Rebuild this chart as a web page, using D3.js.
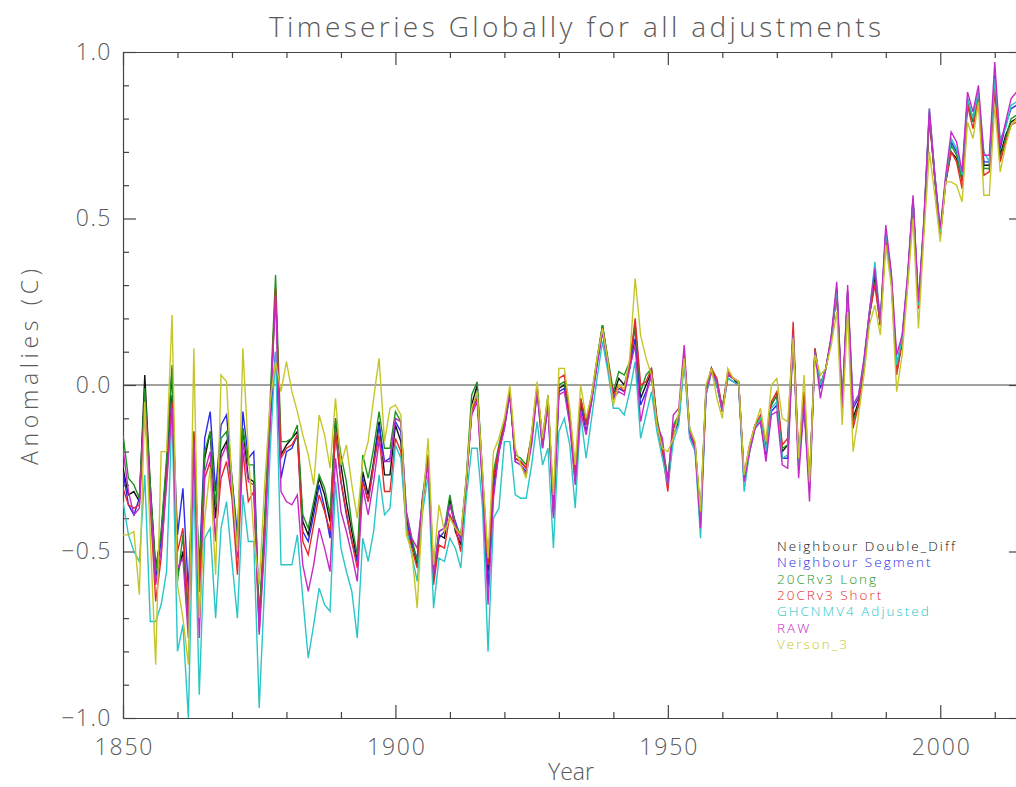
<!DOCTYPE html>
<html>
<head>
<meta charset="utf-8">
<script src="https://cdn.jsdelivr.net/npm/d3@7"></script>
<style>
  html, body { margin: 0; padding: 0; background: #fff; }
  svg { display: block; }
  text { font-family: "Open Sans", "DejaVu Sans", sans-serif; font-weight: 300; }
</style>
</head>
<body>
<svg id="chart" width="1016" height="787"></svg>
<script>
// Global annual temperature anomalies (C), 1850-2014, one array per adjustment method
const firstYear = 1850;

const doubleDiff = [
  -0.25, -0.33, -0.32, -0.35, 0.03, -0.30, -0.55, -0.45, -0.24, 0.05,
  -0.57, -0.50, -0.70, -0.15, -0.62, -0.22, -0.14, -0.40, -0.20, -0.17,
  -0.30, -0.50, -0.13, -0.28, -0.29, -0.72, -0.42, -0.08, 0.29, -0.21,
  -0.18, -0.16, -0.14, -0.41, -0.45, -0.37, -0.28, -0.33, -0.41, -0.10,
  -0.24, -0.35, -0.44, -0.53, -0.26, -0.33, -0.23, -0.11, -0.27, -0.27,
  -0.12, -0.17, -0.40, -0.47, -0.54, -0.34, -0.22, -0.57, -0.45, -0.46,
  -0.34, -0.44, -0.48, -0.29, -0.06, 0.00, -0.28, -0.56, -0.29, -0.19,
  -0.12, -0.02, -0.22, -0.23, -0.25, -0.16, -0.01, -0.17, -0.04, -0.38,
  -0.01, 0.00, -0.10, -0.28, -0.05, -0.12, -0.04, 0.07, 0.18, 0.07,
  -0.03, 0.02, 0.00, 0.06, 0.18, -0.04, 0.00, 0.04, -0.11, -0.19,
  -0.29, -0.13, -0.10, 0.09, -0.14, -0.18, -0.40, -0.02, 0.05, 0.00,
  -0.07, 0.03, 0.02, 0.00, -0.28, -0.19, -0.12, -0.10, -0.19, -0.06,
  -0.03, -0.20, -0.18, 0.15, -0.23, -0.06, -0.30, 0.10, 0.00, 0.05,
  0.14, 0.28, -0.07, 0.27, -0.10, -0.05, 0.06, 0.21, 0.32, 0.18,
  0.45, 0.32, 0.04, 0.13, 0.31, 0.55, 0.23, 0.48, 0.81, 0.62,
  0.45, 0.61, 0.70, 0.68, 0.62, 0.85, 0.79, 0.87, 0.66, 0.66,
  0.91, 0.69, 0.75, 0.79, 0.80
];

const segment = [
  -0.26, -0.36, -0.39, -0.34, -0.05, -0.32, -0.58, -0.47, -0.26, -0.03,
  -0.45, -0.31, -0.62, -0.18, -0.55, -0.16, -0.08, -0.32, -0.12, -0.09,
  -0.28, -0.45, -0.08, -0.22, -0.20, -0.70, -0.44, -0.12, 0.10, -0.28,
  -0.20, -0.19, -0.15, -0.44, -0.47, -0.39, -0.30, -0.37, -0.46, -0.14,
  -0.29, -0.39, -0.47, -0.53, -0.28, -0.35, -0.24, -0.12, -0.23, -0.22,
  -0.11, -0.14, -0.40, -0.48, -0.52, -0.34, -0.23, -0.58, -0.46, -0.44,
  -0.36, -0.41, -0.46, -0.29, -0.08, -0.02, -0.30, -0.61, -0.32, -0.20,
  -0.13, -0.03, -0.23, -0.24, -0.26, -0.17, -0.02, -0.19, -0.06, -0.39,
  -0.02, -0.01, -0.11, -0.29, -0.06, -0.14, -0.05, 0.06, 0.16, 0.06,
  -0.04, -0.01, -0.02, 0.05, 0.14, -0.06, -0.02, 0.03, -0.12, -0.20,
  -0.29, -0.15, -0.11, 0.08, -0.15, -0.19, -0.41, -0.03, 0.04, 0.00,
  -0.08, 0.02, 0.01, 0.00, -0.29, -0.20, -0.13, -0.11, -0.21, -0.08,
  -0.06, -0.22, -0.22, 0.15, -0.24, -0.06, -0.31, 0.10, -0.01, 0.05,
  0.14, 0.29, -0.06, 0.28, -0.07, -0.04, 0.07, 0.22, 0.34, 0.19,
  0.46, 0.33, 0.06, 0.14, 0.32, 0.56, 0.24, 0.49, 0.82, 0.63,
  0.46, 0.62, 0.73, 0.70, 0.63, 0.86, 0.80, 0.88, 0.67, 0.67,
  0.93, 0.71, 0.78, 0.83, 0.84
];

const crLong = [
  -0.15, -0.28, -0.30, -0.34, -0.01, -0.30, -0.56, -0.44, -0.22, 0.06,
  -0.59, -0.45, -0.72, -0.14, -0.58, -0.20, -0.14, -0.36, -0.16, -0.14,
  -0.28, -0.48, -0.13, -0.24, -0.24, -0.70, -0.40, -0.05, 0.33, -0.17,
  -0.17, -0.16, -0.12, -0.39, -0.43, -0.35, -0.27, -0.31, -0.39, -0.10,
  -0.21, -0.29, -0.42, -0.51, -0.21, -0.28, -0.19, -0.08, -0.19, -0.19,
  -0.08, -0.11, -0.38, -0.46, -0.53, -0.33, -0.21, -0.56, -0.44, -0.43,
  -0.33, -0.42, -0.45, -0.28, -0.03, 0.01, -0.27, -0.54, -0.26, -0.18,
  -0.11, -0.02, -0.21, -0.22, -0.24, -0.15, -0.01, -0.16, -0.03, -0.37,
  0.00, 0.01, -0.09, -0.27, -0.04, -0.11, -0.03, 0.08, 0.18, 0.08,
  -0.02, 0.04, 0.03, 0.07, 0.18, -0.02, 0.03, 0.05, -0.10, -0.18,
  -0.28, -0.12, -0.09, 0.09, -0.13, -0.18, -0.39, -0.01, 0.05, 0.01,
  -0.07, 0.03, 0.02, 0.01, -0.28, -0.19, -0.12, -0.10, -0.19, -0.06,
  -0.03, -0.19, -0.18, 0.16, -0.23, -0.05, -0.30, 0.11, 0.00, 0.05,
  0.14, 0.28, -0.07, 0.27, -0.11, -0.06, 0.06, 0.21, 0.31, 0.18,
  0.44, 0.32, 0.04, 0.13, 0.31, 0.55, 0.23, 0.48, 0.81, 0.62,
  0.45, 0.61, 0.72, 0.69, 0.61, 0.85, 0.79, 0.87, 0.65, 0.65,
  0.90, 0.68, 0.74, 0.80, 0.81
];

const crShort = [
  -0.31, -0.36, -0.37, -0.36, -0.06, -0.36, -0.65, -0.52, -0.28, -0.05,
  -0.50, -0.43, -0.68, -0.14, -0.62, -0.28, -0.23, -0.46, -0.28, -0.23,
  -0.34, -0.57, -0.20, -0.35, -0.32, -0.74, -0.45, -0.10, 0.29, -0.22,
  -0.19, -0.18, -0.15, -0.47, -0.51, -0.42, -0.33, -0.38, -0.44, -0.14,
  -0.29, -0.38, -0.47, -0.55, -0.29, -0.35, -0.24, -0.15, -0.32, -0.32,
  -0.16, -0.20, -0.42, -0.49, -0.55, -0.35, -0.22, -0.60, -0.48, -0.49,
  -0.39, -0.43, -0.50, -0.30, -0.08, -0.04, -0.29, -0.54, -0.28, -0.19,
  -0.12, -0.02, -0.22, -0.23, -0.25, -0.15, 0.00, -0.17, -0.04, -0.37,
  0.02, 0.03, -0.09, -0.26, -0.04, -0.12, -0.04, 0.07, 0.17, 0.07,
  -0.03, 0.00, -0.02, 0.06, 0.20, 0.00, 0.01, 0.05, -0.11, -0.20,
  -0.32, -0.13, -0.10, 0.09, -0.14, -0.18, -0.40, -0.02, 0.05, 0.02,
  -0.07, 0.04, 0.02, 0.01, -0.27, -0.18, -0.12, -0.09, -0.18, -0.05,
  -0.02, -0.18, -0.16, 0.19, -0.22, -0.02, -0.29, 0.11, 0.00, 0.05,
  0.14, 0.28, -0.07, 0.28, -0.13, -0.06, 0.06, 0.21, 0.30, 0.18,
  0.44, 0.32, 0.03, 0.13, 0.31, 0.55, 0.23, 0.48, 0.80, 0.62,
  0.45, 0.61, 0.70, 0.67, 0.59, 0.84, 0.77, 0.86, 0.63, 0.64,
  0.89, 0.67, 0.73, 0.78, 0.79
];

const ghcnAdjusted = [
  -0.35, -0.45, -0.50, -0.53, -0.27, -0.71, -0.71, -0.66, -0.56, -0.08,
  -0.80, -0.72, -1.00, -0.28, -0.93, -0.46, -0.43, -0.70, -0.43, -0.35,
  -0.53, -0.70, -0.33, -0.47, -0.47, -0.97, -0.60, -0.20, 0.10, -0.54,
  -0.54, -0.54, -0.45, -0.64, -0.82, -0.72, -0.61, -0.66, -0.68, -0.29,
  -0.49, -0.56, -0.62, -0.76, -0.46, -0.53, -0.44, -0.27, -0.39, -0.37,
  -0.18, -0.22, -0.43, -0.51, -0.59, -0.38, -0.27, -0.67, -0.52, -0.53,
  -0.46, -0.49, -0.55, -0.34, -0.19, -0.19, -0.37, -0.80, -0.40, -0.37,
  -0.17, -0.17, -0.33, -0.34, -0.34, -0.24, -0.11, -0.24, -0.19, -0.49,
  -0.14, -0.10, -0.18, -0.37, -0.09, -0.22, -0.10, 0.02, 0.13, 0.04,
  -0.07, -0.07, -0.09, -0.02, 0.07, -0.16, -0.09, -0.02, -0.14, -0.22,
  -0.30, -0.17, -0.12, 0.07, -0.16, -0.20, -0.46, -0.03, 0.04, 0.00,
  -0.08, 0.02, 0.01, 0.00, -0.32, -0.20, -0.13, -0.10, -0.20, -0.07,
  -0.05, -0.22, -0.21, 0.15, -0.24, -0.06, -0.31, 0.10, 0.00, 0.05,
  0.14, 0.29, -0.06, 0.28, -0.06, -0.03, 0.07, 0.22, 0.37, 0.19,
  0.46, 0.33, 0.06, 0.14, 0.32, 0.56, 0.24, 0.49, 0.83, 0.63,
  0.46, 0.62, 0.74, 0.71, 0.63, 0.86, 0.80, 0.88, 0.70, 0.67,
  0.92, 0.74, 0.77, 0.84, 0.85
];

const raw = [
  -0.19, -0.32, -0.39, -0.37, -0.06, -0.34, -0.60, -0.50, -0.30, -0.07,
  -0.55, -0.52, -0.76, -0.17, -0.76, -0.26, -0.20, -0.47, -0.22, -0.18,
  -0.32, -0.52, -0.17, -0.29, -0.30, -0.75, -0.48, -0.10, 0.27, -0.32,
  -0.35, -0.36, -0.33, -0.54, -0.62, -0.54, -0.43, -0.49, -0.56, -0.22,
  -0.38, -0.44, -0.51, -0.59, -0.31, -0.39, -0.29, -0.17, -0.23, -0.23,
  -0.10, -0.11, -0.38, -0.46, -0.49, -0.34, -0.24, -0.57, -0.44, -0.43,
  -0.36, -0.42, -0.47, -0.29, -0.09, -0.05, -0.31, -0.66, -0.34, -0.20,
  -0.13, -0.02, -0.23, -0.24, -0.27, -0.18, -0.02, -0.19, -0.06, -0.40,
  -0.03, -0.02, -0.12, -0.30, -0.08, -0.15, -0.05, 0.06, 0.16, 0.06,
  -0.04, -0.02, -0.03, 0.05, 0.12, -0.11, -0.03, 0.03, -0.12, -0.16,
  -0.30, -0.09, -0.07, 0.12, -0.14, -0.19, -0.43, -0.02, 0.04, 0.01,
  -0.08, 0.03, 0.02, 0.01, -0.29, -0.20, -0.13, -0.11, -0.23, -0.09,
  -0.08, -0.24, -0.25, 0.15, -0.28, -0.06, -0.35, 0.10, -0.04, 0.05,
  0.15, 0.31, -0.06, 0.30, -0.06, -0.03, 0.08, 0.22, 0.35, 0.19,
  0.48, 0.34, 0.09, 0.15, 0.33, 0.57, 0.25, 0.50, 0.83, 0.63,
  0.47, 0.63, 0.76, 0.73, 0.64, 0.88, 0.82, 0.90, 0.69, 0.69,
  0.97, 0.72, 0.79, 0.86, 0.88
];

const version3 = [
  -0.45, -0.45, -0.44, -0.63, -0.05, -0.45, -0.84, -0.20, -0.20, 0.21,
  -0.60, -0.70, -0.84, 0.11, -0.70, -0.40, -0.25, -0.57, 0.03, 0.01,
  -0.30, -0.50, 0.11, -0.20, -0.45, -0.60, -0.30, -0.05, 0.07, -0.02,
  0.07, -0.02, -0.08, -0.15, -0.21, -0.30, -0.09, -0.15, -0.25, -0.04,
  -0.24, -0.18, -0.30, -0.40, -0.23, -0.17, -0.04, 0.08, -0.17, -0.07,
  -0.06, -0.09, -0.45, -0.50, -0.67, -0.36, -0.16, -0.54, -0.36, -0.44,
  -0.40, -0.43, -0.45, -0.28, -0.07, -0.02, -0.26, -0.52, -0.20, -0.16,
  -0.10, 0.00, -0.19, -0.24, -0.28, -0.14, 0.01, -0.16, -0.03, -0.33,
  0.05, 0.05, -0.07, -0.24, 0.00, -0.10, -0.03, 0.08, 0.17, 0.07,
  -0.06, 0.00, -0.01, 0.08, 0.32, 0.15, 0.08, 0.03, -0.12, -0.19,
  -0.20, -0.16, -0.08, 0.08, -0.13, -0.17, -0.38, 0.00, 0.05, -0.04,
  -0.10, 0.05, 0.02, 0.01, -0.27, -0.18, -0.12, -0.07, -0.17, 0.00,
  0.02, -0.10, -0.11, 0.14, -0.22, 0.03, -0.29, 0.09, 0.03, 0.05,
  0.12, 0.22, -0.12, 0.22, -0.20, -0.09, 0.03, 0.18, 0.24, 0.15,
  0.42, 0.30, -0.02, 0.09, 0.29, 0.50, 0.17, 0.45, 0.70, 0.57,
  0.43, 0.61, 0.61, 0.60, 0.55, 0.79, 0.74, 0.85, 0.57, 0.57,
  0.84, 0.64, 0.72, 0.78, 0.80
];

const seriesNames = [
  "Neighbour Double_Diff", "Neighbour Segment", "20CRv3 Long", "20CRv3 Short",
  "GHCNMV4 Adjusted", "RAW", "Verson_3"
];
const seriesValues = [doubleDiff, segment, crLong, crShort, ghcnAdjusted, raw, version3];
const seriesColors = ["#111111", "#2a2ae8", "#1f931f", "#e62a2a", "#2ac6c6", "#c62ac6", "#c6c62a"];

const majorYearTicks = [1850, 1900, 1950, 2000];
const minorYearTicks = [1860, 1870, 1880, 1890, 1910, 1920, 1930, 1940, 1960, 1970, 1980, 1990, 2010];
const majorValueTicks = [-1.0, -0.5, 0.0, 0.5, 1.0];
const minorValueTicks = [-0.9, -0.8, -0.7, -0.6, -0.4, -0.3, -0.2, -0.1, 0.1, 0.2, 0.3, 0.4, 0.6, 0.7, 0.8, 0.9];

const svg = d3.select("#chart");
const plotLeft = 123, plotRight = 1022, plotTop = 52, plotBottom = 718;
const axisColor = "#444";
const textColor = "#5a5a5a";

const x = d3.scaleLinear().domain([1850, 2015]).range([plotLeft, plotRight]);
const y = d3.scaleLinear().domain([-1, 1]).range([plotBottom, plotTop]);

svg.append("defs").append("clipPath").attr("id", "plotClip")
  .append("rect").attr("x", plotLeft).attr("y", plotTop - 2)
  .attr("width", plotRight - plotLeft).attr("height", plotBottom - plotTop + 4);

// Frame and tick marks
function styleAxis(g) {
  g.selectAll("path, line").attr("stroke", axisColor).attr("stroke-width", 1.2);
  g.selectAll("text").remove();
}

svg.append("g").attr("transform", `translate(0,${plotBottom})`)
  .call(d3.axisBottom(x).tickValues(majorYearTicks).tickSizeInner(-13).tickSizeOuter(0))
  .call(styleAxis);
svg.append("g").attr("transform", `translate(0,${plotBottom})`)
  .call(d3.axisBottom(x).tickValues(minorYearTicks).tickSizeInner(-6).tickSizeOuter(0))
  .call(styleAxis).call(g => g.select(".domain").remove());
svg.append("g").attr("transform", `translate(0,${plotTop})`)
  .call(d3.axisTop(x).tickValues(majorYearTicks).tickSizeInner(-13).tickSizeOuter(0))
  .call(styleAxis);
svg.append("g").attr("transform", `translate(0,${plotTop})`)
  .call(d3.axisTop(x).tickValues(minorYearTicks).tickSizeInner(-6).tickSizeOuter(0))
  .call(styleAxis).call(g => g.select(".domain").remove());

svg.append("g").attr("transform", `translate(${plotLeft},0)`)
  .call(d3.axisLeft(y).tickValues(majorValueTicks).tickSizeInner(-13).tickSizeOuter(0))
  .call(styleAxis);
svg.append("g").attr("transform", `translate(${plotLeft},0)`)
  .call(d3.axisLeft(y).tickValues(minorValueTicks).tickSizeInner(-6).tickSizeOuter(0))
  .call(styleAxis).call(g => g.select(".domain").remove());
svg.append("g").attr("transform", `translate(${plotRight},0)`)
  .call(d3.axisRight(y).tickValues(majorValueTicks).tickSizeInner(-13).tickSizeOuter(0))
  .call(styleAxis);
svg.append("g").attr("transform", `translate(${plotRight},0)`)
  .call(d3.axisRight(y).tickValues(minorValueTicks).tickSizeInner(-6).tickSizeOuter(0))
  .call(styleAxis).call(g => g.select(".domain").remove());

// Tick labels
const xLabels = svg.append("g").attr("transform", `translate(0,${plotBottom})`)
  .call(d3.axisBottom(x).tickValues(majorYearTicks).tickFormat(d3.format("d")).tickSize(0).tickPadding(21));
xLabels.select(".domain").remove();
xLabels.attr("font-family", null).attr("font-size", null);
xLabels.selectAll("text").attr("fill", textColor).attr("font-size", 23)
  .attr("textLength", 58).attr("lengthAdjust", "spacing");

const yLabels = svg.append("g").attr("transform", `translate(${plotLeft},0)`)
  .call(d3.axisLeft(y).tickValues(majorValueTicks).tickFormat(d3.format(".1f")).tickSize(0).tickPadding(11));
yLabels.select(".domain").remove();
yLabels.attr("font-family", null).attr("font-size", null);
yLabels.selectAll("text").attr("fill", textColor).attr("font-size", 23)
  .attr("letter-spacing", 1.5);

// Zero reference line
svg.append("line")
  .attr("x1", plotLeft).attr("x2", plotRight)
  .attr("y1", y(0)).attr("y2", y(0))
  .attr("stroke", axisColor).attr("stroke-width", 1.2);

// Series lines
const line = d3.line()
  .x((d, i) => x(firstYear + i))
  .y(d => y(d));

svg.append("g").attr("clip-path", "url(#plotClip)")
  .selectAll("path")
  .data(seriesValues)
  .join("path")
  .attr("d", line)
  .attr("fill", "none")
  .attr("stroke", (d, i) => seriesColors[i])
  .attr("stroke-width", 1.4)
  .attr("stroke-linejoin", "miter");

// Titles
svg.append("text")
  .attr("x", 575).attr("y", 37)
  .attr("text-anchor", "middle")
  .attr("font-size", 28).attr("fill", textColor)
  .attr("textLength", 612).attr("lengthAdjust", "spacing")
  .text("Timeseries Globally for all adjustments");

svg.append("text")
  .attr("x", 571).attr("y", 780)
  .attr("text-anchor", "middle")
  .attr("font-size", 23).attr("fill", textColor)
  .attr("textLength", 46).attr("lengthAdjust", "spacing")
  .text("Year");

svg.append("text")
  .attr("transform", "translate(38,367) rotate(-90)")
  .attr("text-anchor", "middle")
  .attr("font-size", 23).attr("fill", textColor)
  .attr("textLength", 196).attr("lengthAdjust", "spacing")
  .text("Anomalies (C)");

// Legend
svg.append("g").selectAll("text")
  .data(seriesNames)
  .join("text")
  .attr("x", 777)
  .attr("y", (d, i) => 551 + i * 16.3)
  .attr("font-size", 13.5)
  .attr("letter-spacing", 2)
  .attr("fill", (d, i) => seriesColors[i])
  .text(d => d);
</script>
</body>
</html>
